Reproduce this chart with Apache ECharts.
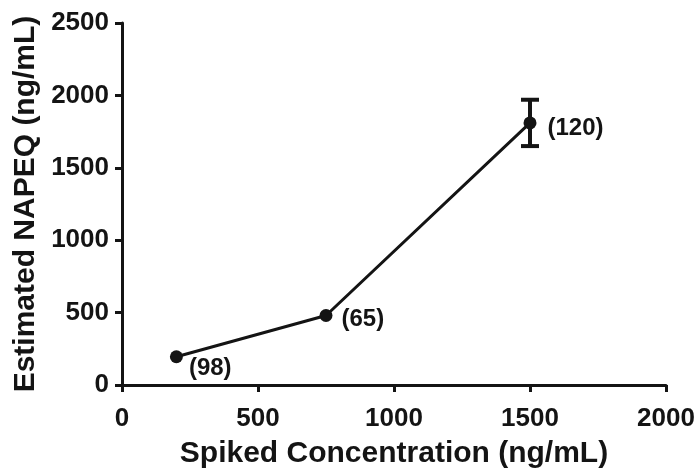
<!DOCTYPE html>
<html>
<head>
<meta charset="utf-8">
<script src="https://cdn.jsdelivr.net/npm/echarts@6/dist/echarts.min.js"></script>
<style>html,body{margin:0;padding:0;background:#fff;}#c{width:699px;height:470px;}</style>
</head>
<body>
<div id="c"></div>
<script>
var xValues = [200, 750, 1500];
var yValues = [195, 480, 1810];
var errValues = [0, 0, 160];
var nLabels = ['(98)', '(65)', '(120)'];
var xTicks = [0, 500, 1000, 1500, 2000];
var yTicks = [0, 500, 1000, 1500, 2000, 2500];

var FONT = '"Liberation Sans", Arial, sans-serif';
var INK = '#141414';
var labelOffsets = [[0, 12], [0, 4], [0, 5]];
var labelDist = [6, 9, 11];

var lineData = xValues.map(function (x, i) {
  return {
    value: [x, yValues[i]],
    label: { show: true, position: 'right', distance: labelDist[i], offset: labelOffsets[i], formatter: nLabels[i] }
  };
});
var errData = xValues.map(function (x, i) { return [x, yValues[i] - errValues[i], yValues[i] + errValues[i]]; })
  .filter(function (d) { return d[2] > d[1]; });

function plain(v) { return String(v); }

var chart = echarts.init(document.getElementById('c'), null, { renderer: 'canvas' });
chart.setOption({
  animation: false,
  backgroundColor: '#fff',
  grid: { left: 122, right: 33, top: 23, bottom: 85, containLabel: false, outerBoundsMode: 'none' },
  xAxis: {
    type: 'value', min: xTicks[0], max: xTicks[xTicks.length - 1], interval: xTicks[1] - xTicks[0],
    name: 'Spiked Concentration (ng/mL)', nameLocation: 'middle', nameGap: 54,
    nameTextStyle: { fontFamily: FONT, fontWeight: 'bold', fontSize: 30, color: INK },
    axisLine: { lineStyle: { color: INK, width: 3 } },
    axisTick: { show: true, inside: false, length: 7, lineStyle: { color: INK, width: 3 } },
    axisLabel: { fontFamily: FONT, fontWeight: 'bold', fontSize: 26, color: INK, margin: 21, formatter: plain },
    splitLine: { show: false }
  },
  yAxis: {
    type: 'value', min: yTicks[0], max: yTicks[yTicks.length - 1], interval: yTicks[1] - yTicks[0],
    name: 'Estimated NAPEQ (ng/mL)', nameLocation: 'middle', nameGap: 81,
    nameTextStyle: { fontFamily: FONT, fontWeight: 'bold', fontSize: 30, color: INK },
    axisLine: { show: true, lineStyle: { color: INK, width: 3 } },
    axisTick: { show: true, inside: false, length: 7, lineStyle: { color: INK, width: 3 } },
    axisLabel: { fontFamily: FONT, fontWeight: 'bold', fontSize: 26, color: INK, margin: 13, formatter: plain },
    splitLine: { show: false }
  },
  series: [
    {
      type: 'custom',
      data: errData,
      z: 3,
      renderItem: function (params, api) {
        var x = api.value(0);
        var lo = api.coord([x, api.value(1)]);
        var hi = api.coord([x, api.value(2)]);
        var hw = 9;
        var st = { stroke: INK, lineWidth: 4 };
        return {
          type: 'group',
          children: [
            { type: 'line', shape: { x1: lo[0], y1: lo[1], x2: hi[0], y2: hi[1] }, style: st },
            { type: 'line', shape: { x1: lo[0] - hw, y1: lo[1], x2: lo[0] + hw, y2: lo[1] }, style: st },
            { type: 'line', shape: { x1: hi[0] - hw, y1: hi[1], x2: hi[0] + hw, y2: hi[1] }, style: st }
          ]
        };
      }
    },
    {
      type: 'line',
      data: lineData,
      z: 4,
      symbol: 'circle',
      symbolSize: 13,
      lineStyle: { color: INK, width: 3 },
      itemStyle: { color: INK },
      label: { fontFamily: FONT, fontWeight: 'bold', fontSize: 24, color: INK }
    }
  ]
});
</script>
</body>
</html>
